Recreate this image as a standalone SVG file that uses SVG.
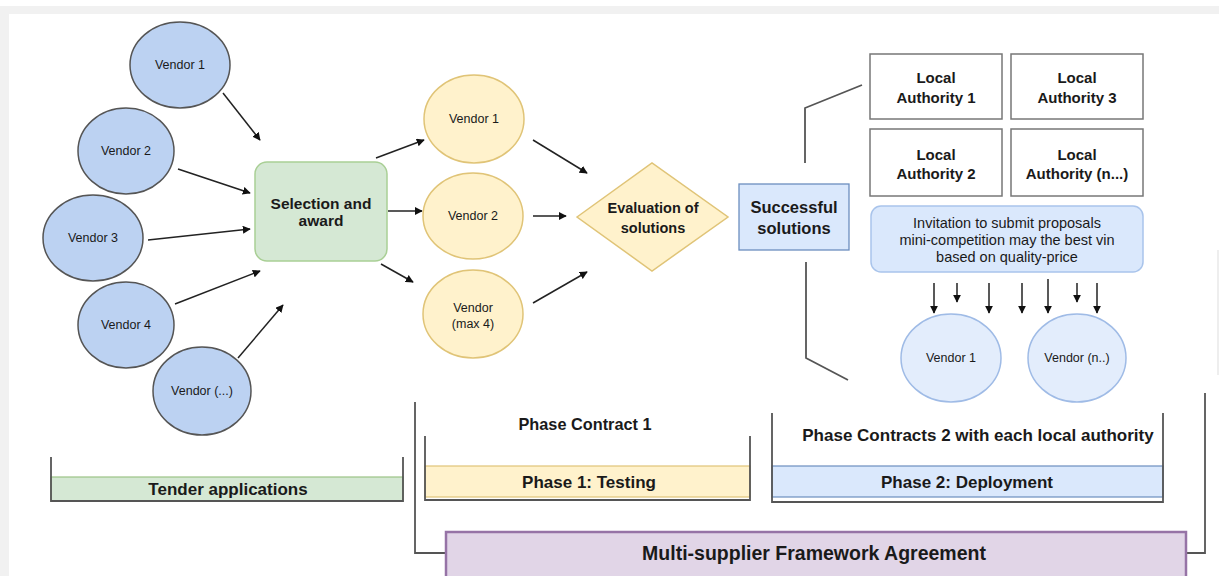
<svg xmlns="http://www.w3.org/2000/svg" width="1219" height="576" viewBox="0 0 1219 576">
<defs>
<marker id="ah" viewBox="0 0 10 10" refX="9" refY="5" markerWidth="8" markerHeight="8" markerUnits="userSpaceOnUse" orient="auto">
<path d="M0,0 L10,5 L0,10 z" fill="#111"/>
</marker>
<style>
text{font-family:"Liberation Sans",Arial,sans-serif;fill:#1a1a1a;text-anchor:middle;dominant-baseline:central}
.b{font-weight:bold}
.v{font-size:12.5px}
.bv{fill:#bcd2f2;stroke:#555;stroke-width:1.5}
.yv{fill:#fff2cc;stroke:#e0c477;stroke-width:1.5}
.lv{fill:#e3edfc;stroke:#9fbbe6;stroke-width:1.5}
.ar{stroke:#222;stroke-width:1.5;fill:none;marker-end:url(#ah)}
.br{stroke:#555;stroke-width:1.8;fill:none}
.la{fill:#fff;stroke:#777;stroke-width:1.5}
</style>
</defs>
<rect x="0" y="0" width="1219" height="576" fill="#fff"/>
<rect x="0" y="6" width="1219" height="8" fill="#f1f1f1"/>
<rect x="0" y="6" width="9" height="570" fill="#f1f1f1"/>
<rect x="1217" y="250" width="2" height="125" fill="#eeeeee"/>

<g id="brackets">
<rect x="51" y="477" width="352" height="24" fill="#d5e8d4" stroke="#9cc486" stroke-width="1.2"/>
<polyline class="br" points="51,457 51,501 403,501 403,457"/>
<rect x="425" y="466" width="325" height="31" fill="#fff2cc" stroke="#e0c477" stroke-width="1.2"/>
<polyline class="br" points="425,436 425,500 750,500 750,436"/>
<rect x="772" y="466" width="391" height="31" fill="#dae8fc" stroke="#6c8ebf" stroke-width="1.2"/>
<polyline class="br" points="772,413 772,502 1163,502 1163,413"/>
<polyline class="br" points="415,402 415,553 446,553"/>
<polyline class="br" points="1205,393 1205,553 1186,553"/>
<polyline class="br" points="862,85 805,108 805,163"/>
<polyline class="br" points="806,262 806,358 848,380"/>
</g>

<g id="connectors">
<line class="ar" x1="223" y1="93" x2="260" y2="140"/>
<line class="ar" x1="178" y1="169" x2="250" y2="193"/>
<line class="ar" x1="148" y1="240" x2="250" y2="229"/>
<line class="ar" x1="175" y1="304" x2="260" y2="271"/>
<line class="ar" x1="238" y1="358" x2="283" y2="305"/>
<line class="ar" x1="376" y1="158" x2="424" y2="140"/>
<line class="ar" x1="388" y1="211" x2="422" y2="211"/>
<line class="ar" x1="381" y1="264" x2="413" y2="282"/>
<line class="ar" x1="533" y1="140" x2="587" y2="173"/>
<line class="ar" x1="533" y1="216" x2="566" y2="216"/>
<line class="ar" x1="533" y1="303" x2="587" y2="272"/>
<line class="ar" x1="934" y1="283" x2="934" y2="313"/>
<line class="ar" x1="957" y1="283" x2="957" y2="302"/>
<line class="ar" x1="989" y1="283" x2="989" y2="313"/>
<line class="ar" x1="1022" y1="283" x2="1022" y2="313"/>
<line class="ar" x1="1048" y1="279" x2="1048" y2="313"/>
<line class="ar" x1="1077" y1="283" x2="1077" y2="302"/>
<line class="ar" x1="1097" y1="283" x2="1097" y2="313"/>
</g>

<g id="tender-v1"><ellipse class="bv" cx="180" cy="65" rx="50" ry="43"/><text class="v" x="180" y="65">Vendor 1</text></g>
<g id="tender-v2"><ellipse class="bv" cx="126" cy="151" rx="48" ry="43"/><text class="v" x="126" y="151">Vendor 2</text></g>
<g id="tender-v3"><ellipse class="bv" cx="93" cy="238" rx="50" ry="43"/><text class="v" x="93" y="238">Vendor 3</text></g>
<g id="tender-v4"><ellipse class="bv" cx="126" cy="325" rx="48" ry="43"/><text class="v" x="126" y="325">Vendor 4</text></g>
<g id="tender-vn"><ellipse class="bv" cx="202" cy="391" rx="49" ry="44"/><text class="v" x="202" y="391">Vendor (...)</text></g>

<g id="selection"><rect x="255" y="162" width="132" height="99" rx="12" fill="#d5e8d4" stroke="#a9cf95" stroke-width="1.5"/>
<text class="b" x="321" y="203" font-size="15.5">Selection and</text><text class="b" x="321" y="220" font-size="15.5">award</text></g>

<g id="p1-v1"><ellipse class="yv" cx="474" cy="119" rx="50" ry="44"/><text class="v" x="474" y="119">Vendor 1</text></g>
<g id="p1-v2"><ellipse class="yv" cx="473" cy="216" rx="50" ry="43"/><text class="v" x="473" y="216">Vendor 2</text></g>
<g id="p1-vmax"><ellipse class="yv" cx="473" cy="314" rx="50" ry="44"/><text class="v" x="473" y="308">Vendor</text><text class="v" x="473" y="324">(max 4)</text></g>

<g id="evaluation"><polygon points="577,217 652,163 728,217 652,271" fill="#fff2cc" stroke="#e0c477" stroke-width="1.5"/>
<text class="b" x="653" y="208" font-size="14.5">Evaluation of</text><text class="b" x="653" y="228" font-size="14.5">solutions</text></g>

<g id="successful"><rect x="739" y="184" width="110" height="66" fill="#dae8fc" stroke="#6c8ebf" stroke-width="1.3"/>
<text class="b" x="794" y="207" font-size="16.5">Successful</text><text class="b" x="794" y="228" font-size="16.5">solutions</text></g>

<g id="la1"><rect class="la" x="870" y="54" width="132" height="65"/><text class="b" x="936" y="77" font-size="15">Local</text><text class="b" x="936" y="97" font-size="15">Authority 1</text></g>
<g id="la3"><rect class="la" x="1011" y="54" width="132" height="65"/><text class="b" x="1077" y="77" font-size="15">Local</text><text class="b" x="1077" y="97" font-size="15">Authority 3</text></g>
<g id="la2"><rect class="la" x="870" y="129" width="132" height="67"/><text class="b" x="936" y="154" font-size="15">Local</text><text class="b" x="936" y="173" font-size="15">Authority 2</text></g>
<g id="lan"><rect class="la" x="1011" y="129" width="132" height="67"/><text class="b" x="1077" y="154" font-size="15">Local</text><text class="b" x="1077" y="173" font-size="15">Authority (n...)</text></g>

<g id="invitation"><rect x="871" y="206" width="272" height="66" rx="10" fill="#dae8fc" stroke="#a9c4eb" stroke-width="1.5"/>
<text x="1007" y="223" font-size="14.5">Invitation to submit proposals</text>
<text x="1007" y="240" font-size="14.5">mini-competition may the best vin</text>
<text x="1007" y="257" font-size="14.5">based on quality-price</text></g>

<g id="p2-v1"><ellipse class="lv" cx="951" cy="358" rx="50" ry="44"/><text class="v" x="951" y="358">Vendor 1</text></g>
<g id="p2-vn"><ellipse class="lv" cx="1077" cy="358" rx="49" ry="44"/><text class="v" x="1077" y="358">Vendor (n..)</text></g>

<g id="labels">
<text class="b" x="228" y="489" font-size="17">Tender applications</text>
<text class="b" x="585" y="424" font-size="16.3">Phase Contract 1</text>
<text class="b" x="589" y="482" font-size="17">Phase 1: Testing</text>
<text class="b" x="978" y="435" font-size="17">Phase Contracts 2 with each local authority</text>
<text class="b" x="967" y="482" font-size="17">Phase 2: Deployment</text>
</g>

<g id="framework"><rect x="446" y="532" width="740" height="50" fill="#e1d5e7" stroke="#9673a6" stroke-width="2.5"/>
<text class="b" x="814" y="553" font-size="19.5">Multi-supplier Framework Agreement</text></g>
</svg>
